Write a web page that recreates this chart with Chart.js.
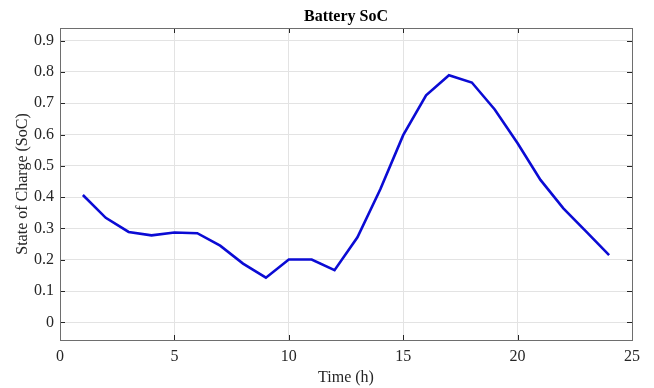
<!DOCTYPE html>
<html>
<head>
<meta charset="utf-8">
<script src="https://cdn.jsdelivr.net/npm/chart.js@4/dist/chart.umd.min.js"></script>
<style>
  html, body { margin: 0; padding: 0; background: #fff; }
  #wrap { width: 654px; height: 388px; }
</style>
</head>
<body>
<div id="wrap"><canvas id="socChart"></canvas></div>
<script>
// Hours of the day
const hours = [1, 2, 3, 4, 5, 6, 7, 8, 9, 10, 11, 12, 13, 14, 15, 16, 17, 18, 19, 20, 21, 22, 23, 24];
// Battery state of charge per hour
const soc = [0.407, 0.334, 0.289, 0.278, 0.287, 0.285, 0.245, 0.188, 0.143, 0.201, 0.201, 0.167,
             0.272, 0.425, 0.598, 0.725, 0.789, 0.766, 0.680, 0.572, 0.455, 0.364, 0.290, 0.215];
// Tick labels
const xTicks = [0, 5, 10, 15, 20, 25];
const yTicks = [0, 0.1, 0.2, 0.3, 0.4, 0.5, 0.6, 0.7, 0.8, 0.9];

const serif = "'Liberation Serif', 'Times New Roman', serif";

// Box around plot area plus inward tick marks (MATLAB style)
const boxPlugin = {
  id: "box",
  afterDatasetsDraw(chart) {
    const { ctx, chartArea: a, scales } = chart;
    ctx.save();
    ctx.strokeStyle = "#262626";
    ctx.lineWidth = 1;
    ctx.beginPath();
    xTicks.forEach(function (t) {
      const px = Math.round(scales.x.getPixelForValue(t)) + 0.5;
      ctx.moveTo(px, a.bottom); ctx.lineTo(px, a.bottom - 5);
      ctx.moveTo(px, a.top); ctx.lineTo(px, a.top + 5);
    });
    yTicks.forEach(function (t) {
      const py = Math.round(scales.y.getPixelForValue(t)) + 0.5;
      ctx.moveTo(a.left, py); ctx.lineTo(a.left + 5, py);
      ctx.moveTo(a.right, py); ctx.lineTo(a.right - 5, py);
    });
    ctx.stroke();
    ctx.strokeStyle = "#6e6e6e";
    ctx.strokeRect(Math.round(a.left) + 0.5, Math.round(a.top) + 0.5,
                   Math.round(a.right - a.left), Math.round(a.bottom - a.top));

    // Title centred over the plot area
    ctx.fillStyle = "#000";
    ctx.font = "bold 16px " + serif;
    ctx.textAlign = "center";
    ctx.textBaseline = "alphabetic";
    ctx.fillText("Battery SoC", (a.left + a.right) / 2, 21);
    ctx.restore();
  },
};

new Chart(document.getElementById("socChart").getContext("2d"), {
  type: "line",
  data: {
    datasets: [
      {
        data: hours.map(function (h, i) { return { x: h, y: soc[i] }; }),
        borderColor: "#0b0bd4",
        borderWidth: 2.6,
        pointRadius: 0,
        tension: 0,
        fill: false,
      },
    ],
  },
  options: {
    responsive: true,
    maintainAspectRatio: false,
    animation: false,
    layout: { padding: { left: 0, right: 22, top: 28, bottom: 0 } },
    plugins: {
      legend: { display: false },
      tooltip: { enabled: false },
    },
    scales: {
      x: {
        type: "linear",
        min: 0,
        max: 25,
        afterBuildTicks(scale) { scale.ticks = xTicks.map(function (v) { return { value: v }; }); },
        afterFit(scale) { scale.height = 48; },
        grid: { color: "#e3e3e3", drawTicks: false },
        border: { display: false },
        ticks: { color: "#262626", padding: 7, font: { family: serif, size: 16 }, maxRotation: 0 },
        title: {
          display: true,
          text: "Time (h)",
          color: "#262626",
          font: { family: serif, size: 16 },
          padding: { top: 2, bottom: 0.5 },
        },
      },
      y: {
        min: -0.056,
        max: 0.94,
        afterBuildTicks(scale) { scale.ticks = yTicks.map(function (v) { return { value: v }; }); },
        afterFit(scale) { scale.width = 60; },
        grid: { color: "#e3e3e3", drawTicks: false },
        border: { display: false },
        ticks: { color: "#262626", padding: 6, font: { family: serif, size: 16 } },
        title: {
          display: true,
          text: "State of Charge (SoC)",
          color: "#262626",
          font: { family: serif, size: 16 },
          padding: { top: 13, bottom: 0 },
        },
      },
    },
  },
  plugins: [boxPlugin],
});
</script>
</body>
</html>
